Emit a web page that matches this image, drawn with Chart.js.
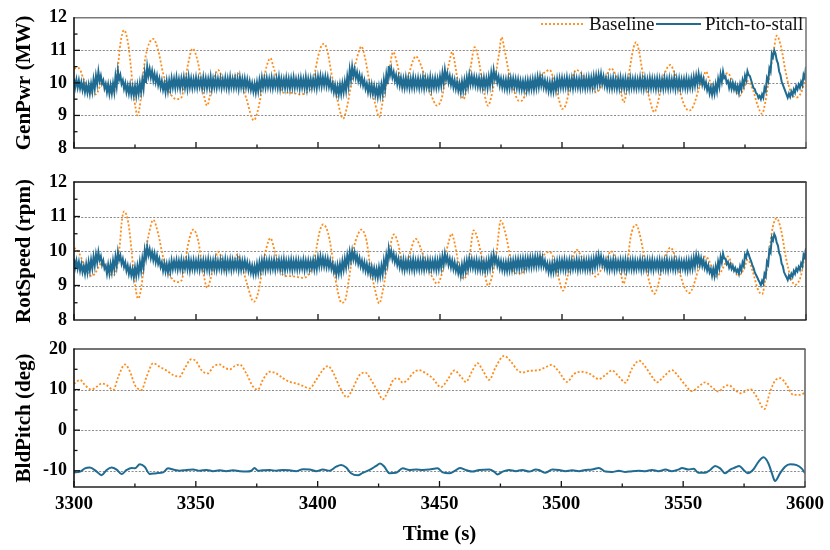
<!DOCTYPE html>
<html><head><meta charset="utf-8">
<script src="https://cdn.jsdelivr.net/npm/chart.js@4.4.1/dist/chart.umd.min.js"></script>
<style>
html,body{margin:0;padding:0;background:#fff;}
#wrap{position:relative;width:830px;height:550px;}
#wrap canvas{position:absolute;left:0;top:0;}
</style></head><body>
<div id="wrap">
<canvas id="c1" width="830" height="550"></canvas>
<canvas id="c2" width="830" height="550"></canvas>
<canvas id="c3" width="830" height="550"></canvas>
</div>
<script>
// ---------------- DATA ----------------
const timeTicks = [3300, 3350, 3400, 3450, 3500, 3550, 3600];
const timeMinorTicks = [3325, 3375, 3425, 3475, 3525, 3575];
const genPwrTicks = [8, 9, 10, 11, 12];
const rotSpeedTicks = [8, 9, 10, 11, 12];
const bldPitchTicks = [-10, 0, 10, 20];
const seriesNames = ['Baseline', 'Pitch-to-stall'];
const bandStart = 3300; // pitch-to-stall noise band read once per second: top edge, then bottom edge

// Baseline GenPwr (MW): [time, value]
const genPwrBaseline = [[3300,10.45],[3302,10.45],[3304,10.1],[3306.5,9.75],[3309,9.65],[3311.5,10.0],[3314.5,9.7],[3316.5,9.75],[3318,10.5],[3319,11.2],[3320.5,11.62],[3322.2,11.2],[3323.3,10.5],[3324.2,9.8],[3325.3,9.2],[3326,9.0],[3327,9.3],[3328,10.0],[3329.3,10.8],[3332.5,11.35],[3334.5,11.0],[3336.5,10.3],[3338.6,9.8],[3342,9.5],[3344,9.55],[3345.4,10.0],[3346.8,10.6],[3348.6,11.05],[3350.9,10.6],[3352.3,10.0],[3354.6,9.3],[3355.7,9.6],[3357.7,10.2],[3359,10.4],[3361.1,10.1],[3362.5,9.9],[3365.2,10.1],[3367,10.3],[3368.7,10.0],[3370.7,9.5],[3373.7,8.85],[3375.5,9.2],[3377.5,10.0],[3378.9,10.5],[3380.5,10.76],[3381.7,10.5],[3383.7,10.0],[3385.8,9.7],[3388,9.7],[3390.5,9.68],[3392.6,9.65],[3395.3,9.7],[3397.4,9.9],[3398.7,10.3],[3400,10.8],[3401.5,11.15],[3402.4,11.2],[3403.8,11.0],[3405.5,10.3],[3407.6,9.6],[3410.3,8.9],[3412,9.3],[3413.7,10.0],[3415.1,10.5],[3416.9,11.0],[3417.8,11.12],[3419.2,10.8],[3421.2,10.0],[3423.3,9.4],[3425.1,8.95],[3426.7,9.5],[3428.8,10.2],[3430.8,10.95],[3432.4,10.6],[3434.2,10.0],[3435.6,9.85],[3437.4,10.3],[3439,10.7],[3440.1,10.82],[3442.4,10.5],[3444.5,10.0],[3446.5,9.6],[3448.8,9.3],[3450.6,9.5],[3452,10.0],[3453.7,10.6],[3455,10.95],[3456.1,10.6],[3457.4,10.0],[3458.8,9.6],[3459.7,9.5],[3460.8,9.8],[3462.6,10.5],[3464.2,11.1],[3465.6,10.8],[3467.4,10.0],[3469.7,9.3],[3471.1,9.6],[3472.9,10.3],[3474.2,10.9],[3475.2,11.4],[3476.5,11.0],[3478.3,10.3],[3480.6,9.7],[3482.3,9.45],[3483.4,9.45],[3485.4,9.7],[3488.1,10.0],[3490.8,10.2],[3493.5,10.35],[3494.9,10.4],[3497,10.0],[3498.7,9.5],[3500.1,9.2],[3501.4,9.3],[3503.1,9.8],[3504.5,10.2],[3505.8,10.4],[3507.9,10.3],[3509.9,10.1],[3512.6,9.85],[3514,9.7],[3516,9.9],[3518.1,10.2],[3520.1,10.45],[3522.2,10.2],[3524.2,9.7],[3525.3,9.4],[3526.6,9.8],[3527.9,10.5],[3529.4,11.1],[3530.4,11.25],[3531.5,11.0],[3533.1,10.3],[3535.2,9.7],[3537.9,9.1],[3539.3,9.4],[3541,10.0],[3542.7,10.4],[3544.4,10.55],[3546.1,10.3],[3548.1,9.8],[3550.2,9.3],[3552.2,9.15],[3553.9,9.3],[3556,9.8],[3557.7,10.1],[3559,10.35],[3560.4,10.1],[3561.8,9.9],[3563.1,9.85],[3565.2,10.1],[3568,10.3],[3570,10.0],[3572,9.7],[3572.7,9.6],[3574.3,9.8],[3576.1,10.05],[3578.2,9.8],[3580.2,9.3],[3582,9.05],[3583.3,9.4],[3585,10.2],[3586.6,10.9],[3588,11.45],[3589.8,11.1],[3591.5,10.4],[3593.4,9.8],[3595.9,9.55],[3598,9.7],[3600,10.2]];

// Pitch-to-stall GenPwr (MW): noise band top / bottom edge, one value per second from 3300 s
const genPwrPitchToStallTop = [
10.13,10.1,10.08,10.02,9.99,9.93,9.94,9.97,10.1,10.22,
10.35,10.22,10.08,9.97,9.95,9.93,9.98,10.2,10.38,10.24,
10.08,9.99,9.92,9.93,9.88,9.9,9.93,9.99,10.09,10.3,
10.5,10.43,10.37,10.28,10.22,10.13,10.06,9.98,10.05,10.07,
10.14,10.12,10.17,10.11,10.13,10.16,10.12,10.18,10.13,10.11,
10.15,10.12,10.1,10.16,10.13,10.12,10.18,10.11,10.14,10.12,
10.13,10.1,10.15,10.12,10.17,10.11,10.13,10.12,10.16,10.12,
10.13,10.1,10.05,9.99,9.97,10.01,10.08,10.15,10.12,10.14,
10.12,10.15,10.11,10.13,10.17,10.12,10.11,10.15,10.12,10.13,
10.16,10.11,10.12,10.14,10.11,10.17,10.12,10.13,10.11,10.15,
10.18,10.2,10.17,10.19,10.16,10.08,9.98,9.93,9.9,9.94,
9.98,10.04,10.19,10.4,10.5,10.42,10.33,10.25,10.18,10.08,
9.98,9.95,9.94,9.9,9.85,9.88,9.94,10.09,10.25,10.52,
10.44,10.33,10.24,10.18,10.15,10.12,10.16,10.13,10.12,10.17,
10.12,10.14,10.11,10.16,10.13,10.12,10.17,10.11,10.14,10.12,
10.19,10.3,10.4,10.29,10.21,10.14,10.08,10.03,9.98,10.04,
10.08,10.16,10.24,10.21,10.18,10.15,10.14,10.12,10.15,10.13,
10.18,10.3,10.39,10.28,10.19,10.13,10.1,10.09,10.12,10.13,
10.13,10.11,10.1,10.06,10.05,10.06,10.07,10.08,10.1,10.12,
10.17,10.18,10.14,10.08,10.04,10.01,10.02,10.05,10.11,10.13,
10.14,10.12,10.16,10.11,10.13,10.15,10.12,10.11,10.16,10.12,
10.13,10.15,10.15,10.2,10.22,10.24,10.27,10.19,10.13,10.12,
10.11,10.14,10.1,10.12,10.15,10.11,10.13,10.1,10.14,10.11,
10.12,10.1,10.15,10.11,10.13,10.1,10.14,10.12,10.11,10.13,
10.12,10.1,10.14,10.11,10.13,10.1,10.15,10.11,10.12,10.1,
10.11,10.13,10.1,10.13,10.18,10.22,10.28,10.2,10.12,10.02,
9.92,9.86,9.89,9.96,10.11,10.26,10.35,10.2,10.06,10.02,
10.0,9.95,9.9,9.96,10.08,10.22,10.36,10.21,9.96,9.81,
9.66,9.6,9.65,9.85,10.15,10.45,10.9,11.0,10.7,10.35,
10.05,9.85,9.65,9.67,9.73,9.8,9.9,9.95,10.03,10.25,
10.5];
const genPwrPitchToStallBottom = [
9.87,9.86,9.83,9.78,9.72,9.7,9.68,9.73,9.82,9.97,
10.06,9.98,9.83,9.72,9.67,9.68,9.72,9.9,10.1,9.97,
9.82,9.72,9.68,9.64,9.63,9.61,9.67,9.72,9.82,10.0,
10.22,10.17,10.08,10.02,9.94,9.86,9.79,9.72,9.76,9.82,
9.87,9.85,9.88,9.84,9.89,9.86,9.83,9.88,9.85,9.87,
9.86,9.89,9.84,9.87,9.85,9.88,9.83,9.87,9.86,9.89,
9.85,9.88,9.86,9.84,9.88,9.86,9.87,9.83,9.88,9.85,
9.87,9.84,9.79,9.74,9.71,9.75,9.82,9.87,9.86,9.88,
9.87,9.85,9.88,9.86,9.84,9.88,9.85,9.87,9.83,9.87,
9.86,9.88,9.84,9.87,9.85,9.83,9.88,9.86,9.87,9.85,
9.92,9.9,9.93,9.91,9.88,9.81,9.72,9.67,9.65,9.67,
9.72,9.77,9.91,10.11,10.21,10.15,10.07,9.99,9.92,9.82,
9.72,9.69,9.67,9.63,9.58,9.62,9.67,9.81,9.96,10.24,
10.17,10.07,9.97,9.92,9.87,9.86,9.88,9.85,9.87,9.86,
9.88,9.85,9.87,9.84,9.88,9.86,9.83,9.87,9.86,9.88,
9.92,10.01,10.11,10.02,9.95,9.87,9.82,9.77,9.72,9.77,
9.82,9.89,9.96,9.95,9.92,9.89,9.87,9.86,9.88,9.85,
9.92,10.01,10.12,10.02,9.92,9.87,9.84,9.82,9.84,9.87,
9.87,9.85,9.82,9.8,9.79,9.78,9.8,9.82,9.81,9.85,
9.88,9.92,9.87,9.82,9.76,9.74,9.75,9.79,9.84,9.87,
9.86,9.88,9.85,9.87,9.84,9.88,9.86,9.85,9.87,9.84,
9.87,9.86,9.88,9.91,9.95,9.97,9.98,9.92,9.86,9.85,
9.84,9.86,9.83,9.85,9.86,9.84,9.85,9.83,9.86,9.85,
9.84,9.86,9.85,9.83,9.86,9.84,9.85,9.86,9.83,9.85,
9.85,9.83,9.86,9.84,9.85,9.86,9.83,9.85,9.84,9.86,
9.85,9.84,9.86,9.87,9.92,9.97,10.02,9.95,9.88,9.78,
9.68,9.64,9.67,9.74,9.89,10.04,10.15,10.0,9.85,9.82,
9.8,9.75,9.7,9.8,9.92,10.08,10.24,10.09,9.84,9.69,
9.54,9.5,9.55,9.75,10.05,10.35,10.8,10.9,10.6,10.25,
9.95,9.75,9.55,9.57,9.63,9.7,9.8,9.85,9.93,10.15,
10.4];

// Baseline RotSpeed (rpm): [time, value]
const rotSpeedBaseline = [[3300,10.08],[3301,10.05],[3303,9.8],[3304.5,9.5],[3306.5,9.3],[3307.2,9.27],[3308.6,9.35],[3310.6,9.6],[3312,9.7],[3313,9.55],[3314.7,9.35],[3315.8,9.28],[3317.5,9.5],[3318.8,10.2],[3319.5,10.8],[3320.5,11.15],[3322.3,10.8],[3323.6,10.0],[3324.7,9.2],[3326.3,8.62],[3327.7,9.0],[3328.8,9.7],[3330.4,10.4],[3332.5,10.9],[3334.5,10.5],[3336.6,9.8],[3339.3,9.3],[3342,9.1],[3344.1,9.15],[3345.4,9.6],[3346.8,10.2],[3348.9,10.62],[3350.9,10.3],[3352.7,9.5],[3354.6,8.93],[3356,9.2],[3357.7,9.7],[3358.9,9.98],[3360.5,9.8],[3361.8,9.45],[3363.9,9.5],[3365.9,9.75],[3366.9,9.9],[3368.7,9.6],[3370.7,9.1],[3373.7,8.53],[3375.5,8.8],[3377.5,9.6],[3378.9,10.1],[3380.5,10.37],[3382.3,10.0],[3384.4,9.5],[3385.8,9.3],[3388.5,9.27],[3391.2,9.25],[3394,9.22],[3396,9.3],[3398,9.6],[3399.4,10.1],[3400.8,10.6],[3402.1,10.77],[3404.2,10.5],[3406.2,9.7],[3407.6,9.0],[3409.7,8.5],[3411,8.55],[3412.7,9.2],[3414.4,10.0],[3416.5,10.5],[3417.8,10.62],[3419.9,10.3],[3421.3,9.6],[3423.3,8.9],[3425.1,8.48],[3426.7,8.9],[3428.8,9.8],[3430.1,10.3],[3431.1,10.48],[3432.9,10.2],[3434.6,9.6],[3435.6,9.45],[3437.6,9.9],[3439.3,10.3],[3440.1,10.35],[3442,10.1],[3444.5,9.6],[3447.2,9.2],[3448.8,9.05],[3450.6,9.3],[3452,9.8],[3453.7,10.3],[3454.7,10.5],[3456.1,10.2],[3457.4,9.7],[3459.5,9.2],[3460.8,9.3],[3462.2,9.9],[3463.8,10.6],[3465.6,10.3],[3467.7,9.6],[3469.7,9.0],[3471.1,9.2],[3473.1,9.9],[3474.9,10.88],[3476.5,10.6],[3478.6,9.9],[3480,9.4],[3481.5,9.35],[3483.4,9.35],[3485.4,9.5],[3488.1,9.7],[3491,9.8],[3494.9,9.98],[3497,9.7],[3498.7,9.2],[3500.4,8.85],[3502.4,9.3],[3504.5,9.85],[3506.1,10.03],[3507.9,9.85],[3509.9,9.6],[3512.6,9.35],[3513.7,9.26],[3516,9.45],[3518.1,9.7],[3520.1,10.0],[3522.2,9.7],[3524.2,9.3],[3525.2,9.05],[3526.6,9.5],[3527.9,10.3],[3529.3,10.7],[3530.4,10.76],[3531.8,10.5],[3533.8,9.8],[3535.8,9.1],[3537.9,8.76],[3539.3,9.0],[3541.3,9.6],[3543,9.95],[3544.4,10.1],[3546.1,9.9],[3548.1,9.4],[3550.2,8.95],[3552.2,8.78],[3553.9,9.0],[3556,9.5],[3557.7,9.8],[3559,9.84],[3560.4,9.7],[3561.8,9.45],[3563.1,9.26],[3565.2,9.4],[3566.6,9.6],[3568,9.84],[3570,9.55],[3572,9.3],[3573.4,9.35],[3574.7,9.5],[3576.1,9.75],[3578.2,9.4],[3580.2,8.9],[3582,8.75],[3583.6,9.3],[3585,10.0],[3586.4,10.7],[3588,10.95],[3589.8,10.6],[3591.8,9.8],[3593.9,9.2],[3595.6,9.02],[3598,9.3],[3599.3,9.8],[3600,10.05]];

// Pitch-to-stall RotSpeed (rpm): noise band top / bottom edge, one value per second from 3300 s
const rotSpeedPitchToStallTop = [
9.78,9.72,9.68,9.62,9.56,9.62,9.68,9.74,9.83,9.9,
9.97,9.85,9.72,9.57,9.6,9.62,9.72,9.83,9.97,9.87,
9.77,9.67,9.58,9.52,9.47,9.52,9.57,9.68,9.78,10.02,
10.12,10.05,9.97,9.93,9.87,9.77,9.67,9.64,9.62,9.64,
9.72,9.7,9.73,9.71,9.74,9.7,9.72,9.75,9.71,9.73,
9.71,9.74,9.7,9.73,9.72,9.75,9.71,9.72,9.74,9.7,
9.73,9.72,9.75,9.71,9.74,9.72,9.7,9.74,9.73,9.71,
9.72,9.67,9.62,9.57,9.56,9.62,9.67,9.72,9.74,9.71,
9.73,9.71,9.74,9.7,9.73,9.72,9.75,9.71,9.72,9.74,
9.71,9.73,9.72,9.7,9.74,9.71,9.72,9.7,9.73,9.72,
9.8,9.83,9.8,9.78,9.77,9.72,9.64,9.57,9.59,9.62,
9.7,9.77,9.87,9.97,10.0,9.95,9.87,9.8,9.72,9.67,
9.62,9.57,9.54,9.5,9.47,9.52,9.57,9.72,9.87,10.07,
10.0,9.92,9.84,9.77,9.72,9.74,9.71,9.73,9.72,9.75,
9.71,9.73,9.72,9.74,9.7,9.73,9.72,9.71,9.74,9.72,
9.77,9.84,9.92,9.84,9.77,9.72,9.67,9.6,9.54,9.6,
9.67,9.72,9.77,9.75,9.72,9.73,9.7,9.71,9.68,9.7,
9.74,9.82,9.9,9.82,9.74,9.7,9.67,9.67,9.69,9.7,
9.72,9.74,9.75,9.75,9.77,9.77,9.78,9.8,9.8,9.82,
9.82,9.83,9.8,9.72,9.64,9.62,9.64,9.67,9.7,9.72,
9.72,9.74,9.71,9.73,9.72,9.7,9.74,9.72,9.71,9.73,
9.72,9.73,9.74,9.77,9.82,9.87,9.84,9.77,9.72,9.73,
9.71,9.74,9.72,9.7,9.73,9.72,9.74,9.71,9.72,9.73,
9.72,9.7,9.74,9.72,9.71,9.73,9.72,9.74,9.7,9.72,
9.73,9.71,9.72,9.74,9.7,9.72,9.73,9.71,9.72,9.7,
9.7,9.71,9.72,9.74,9.8,9.87,9.84,9.79,9.73,9.66,
9.58,9.48,9.48,9.55,9.69,9.83,9.92,9.78,9.68,9.62,
9.57,9.51,9.46,9.56,9.67,9.89,9.99,9.79,9.59,9.39,
9.24,9.09,9.14,9.34,9.69,10.04,10.39,10.49,10.24,9.94,
9.64,9.39,9.24,9.29,9.34,9.42,9.49,9.54,9.64,9.89,
10.08];
const rotSpeedPitchToStallBottom = [
9.53,9.49,9.43,9.39,9.34,9.38,9.43,9.5,9.58,9.67,
9.74,9.6,9.49,9.34,9.35,9.39,9.48,9.58,9.74,9.63,
9.54,9.43,9.34,9.29,9.24,9.28,9.34,9.43,9.53,9.79,
9.88,9.8,9.74,9.68,9.63,9.54,9.43,9.41,9.38,9.41,
9.48,9.5,9.47,9.49,9.46,9.5,9.48,9.45,9.49,9.47,
9.49,9.46,9.5,9.47,9.48,9.45,9.49,9.48,9.46,9.5,
9.47,9.48,9.45,9.49,9.46,9.48,9.5,9.46,9.47,9.49,
9.48,9.43,9.38,9.33,9.34,9.38,9.43,9.48,9.46,9.49,
9.47,9.49,9.46,9.5,9.47,9.48,9.45,9.49,9.48,9.46,
9.49,9.47,9.48,9.5,9.46,9.49,9.48,9.5,9.47,9.48,
9.56,9.57,9.56,9.54,9.53,9.48,9.4,9.33,9.35,9.38,
9.46,9.53,9.63,9.73,9.76,9.7,9.63,9.56,9.48,9.43,
9.38,9.33,9.3,9.26,9.23,9.28,9.33,9.48,9.63,9.83,
9.76,9.68,9.6,9.53,9.48,9.46,9.49,9.47,9.48,9.45,
9.49,9.47,9.48,9.46,9.5,9.47,9.48,9.49,9.46,9.48,
9.53,9.6,9.68,9.6,9.53,9.48,9.43,9.36,9.3,9.36,
9.43,9.48,9.53,9.51,9.48,9.47,9.46,9.45,9.44,9.46,
9.5,9.58,9.66,9.58,9.5,9.46,9.43,9.43,9.45,9.46,
9.48,9.5,9.49,9.51,9.51,9.53,9.54,9.54,9.56,9.56,
9.58,9.57,9.56,9.48,9.4,9.38,9.4,9.43,9.46,9.48,
9.48,9.46,9.49,9.47,9.48,9.5,9.46,9.48,9.49,9.47,
9.48,9.47,9.5,9.53,9.58,9.63,9.6,9.53,9.48,9.47,
9.49,9.46,9.48,9.5,9.47,9.48,9.46,9.49,9.48,9.47,
9.48,9.5,9.46,9.48,9.49,9.47,9.48,9.46,9.5,9.48,
9.47,9.49,9.48,9.46,9.5,9.48,9.47,9.49,9.48,9.5,
9.46,9.45,9.48,9.5,9.56,9.63,9.6,9.57,9.51,9.44,
9.38,9.28,9.28,9.35,9.51,9.67,9.78,9.62,9.52,9.48,
9.43,9.39,9.34,9.44,9.57,9.81,9.91,9.71,9.51,9.31,
9.16,9.01,9.06,9.26,9.61,9.96,10.31,10.41,10.16,9.86,
9.56,9.31,9.16,9.21,9.26,9.34,9.41,9.46,9.56,9.81,
10.02];

// Baseline BldPitch (deg): [time, value]
const bldPitchBaseline = [[3300,11.4],[3302.5,12.4],[3304.5,11.1],[3307.2,10.0],[3309.3,10.7],[3311.3,11.5],[3313.4,11.1],[3316.1,9.9],[3318.2,13.2],[3320.9,16.2],[3323,14.4],[3325,11.1],[3327.7,9.9],[3329.8,13.2],[3332.5,16.5],[3335.2,15.6],[3338,14.7],[3340.7,13.6],[3343.4,13.2],[3345.4,15.2],[3348.2,17.5],[3350.2,16.9],[3352.3,14.8],[3355,14.0],[3357.1,15.6],[3359.8,16.2],[3361.8,15.4],[3363.9,15.0],[3366,15.8],[3368,16.2],[3370.7,14.0],[3373.5,10.7],[3375.5,10.0],[3377.5,12.4],[3380.3,14.4],[3383,14.0],[3385.8,12.8],[3388.5,11.9],[3391.2,11.5],[3394,10.9],[3396.7,10.3],[3399.4,12.4],[3402.1,14.8],[3404.2,15.8],[3406.2,14.4],[3409,10.7],[3412,8.1],[3414.4,10.3],[3417.2,13.6],[3419.6,14.2],[3421.9,12.4],[3424.7,9.5],[3426.7,7.6],[3428.8,9.5],[3431.1,12.4],[3432.9,12.8],[3434.9,11.7],[3436.9,12.4],[3439,14.0],[3441.5,14.8],[3444.5,14.0],[3447.2,12.8],[3450.6,10.6],[3453.3,12.4],[3456.1,14.7],[3458.8,13.2],[3460.8,11.9],[3463.6,14.8],[3465.6,16.5],[3467.7,14.8],[3470.4,12.4],[3473.1,15.6],[3476.5,18.3],[3479.3,16.9],[3482,14.8],[3484,14.2],[3486.8,14.6],[3489.5,14.7],[3490.8,14.8],[3493.5,15.5],[3496,16.1],[3499,14.4],[3502.4,11.9],[3505.1,13.8],[3507.9,14.4],[3511.3,14.0],[3515.4,12.6],[3518.1,13.6],[3520.8,14.7],[3523.6,13.2],[3526.3,11.7],[3529,15.2],[3532,17.1],[3534.5,15.6],[3537.2,13.2],[3539.3,11.8],[3542,13.2],[3545.4,14.8],[3548.1,13.2],[3550.9,11.1],[3553.6,9.6],[3556.3,10.7],[3559,11.8],[3561.8,10.6],[3564.5,9.5],[3566.6,10.6],[3568.6,11.1],[3571.3,9.9],[3573.4,9.1],[3575.4,9.5],[3577.5,10.1],[3580.2,8.2],[3583.3,5.2],[3585.7,9.5],[3588,12.4],[3590,12.8],[3592.5,11.1],[3595.2,8.7],[3597.9,8.7],[3600,9.2]];

// Pitch-to-stall BldPitch (deg): [time, value]
const bldPitchPitchToStall = [[3300,-10.4],[3302.5,-10.2],[3304.5,-9.4],[3306.5,-9.2],[3309.3,-10.2],[3311.3,-11.1],[3313.4,-9.8],[3315.4,-9.2],[3317.5,-9.7],[3319.5,-10.8],[3321.6,-9.8],[3323.6,-9.3],[3325,-9.4],[3327,-8.4],[3329,-9.0],[3331.1,-10.8],[3333.8,-10.6],[3336.6,-10.4],[3338.6,-9.4],[3340.7,-9.7],[3343.4,-10.0],[3346.1,-9.8],[3348.9,-9.7],[3351.6,-10.0],[3354.4,-9.8],[3357.1,-10.1],[3359.8,-9.9],[3362.5,-10.1],[3365.2,-9.9],[3368,-10.1],[3370.7,-10.2],[3372.8,-10.0],[3374.1,-9.3],[3375.5,-10.0],[3377.5,-9.9],[3380.3,-9.8],[3383,-10.0],[3385.8,-9.8],[3388.5,-9.9],[3391.2,-10.1],[3394,-9.6],[3396.7,-9.7],[3399.4,-10.1],[3402.1,-9.7],[3404.9,-10.0],[3407.6,-9.0],[3409.6,-8.6],[3411.7,-9.2],[3413.7,-10.6],[3416.5,-11.1],[3418.5,-10.5],[3421.3,-9.8],[3424,-8.8],[3425.6,-8.2],[3427.4,-9.0],[3429.4,-10.6],[3432.2,-10.5],[3434.9,-9.4],[3437.6,-9.8],[3440.4,-9.7],[3443.1,-9.8],[3445.8,-9.7],[3449.2,-9.4],[3451.3,-10.4],[3454,-10.6],[3456.1,-10.1],[3458.4,-9.3],[3460.8,-9.8],[3463.6,-10.2],[3466.3,-9.8],[3470.4,-9.7],[3472.4,-10.2],[3473.8,-10.9],[3475.9,-10.2],[3478.6,-9.8],[3481.3,-10.1],[3484,-9.8],[3486.8,-10.2],[3489.5,-9.7],[3490.8,-9.8],[3493.5,-10.5],[3496.3,-9.7],[3499,-9.8],[3501.7,-10.1],[3504.5,-9.9],[3507.2,-10.1],[3509.9,-9.8],[3512.6,-9.7],[3515.4,-9.3],[3518.1,-10.2],[3520.8,-10.3],[3523.6,-10.0],[3526.3,-10.3],[3529,-10.1],[3531.8,-10.0],[3534.5,-10.1],[3537.2,-9.8],[3539.9,-10.1],[3542.7,-9.7],[3545.4,-10.1],[3548.1,-9.7],[3549.5,-9.3],[3552.2,-9.7],[3554.3,-9.5],[3556.3,-10.5],[3559,-10.5],[3561.1,-9.8],[3563.1,-8.8],[3565.2,-9.4],[3567.2,-10.6],[3569.3,-9.7],[3571.3,-9.2],[3573,-8.8],[3574.8,-9.8],[3576.5,-10.6],[3578.8,-9.7],[3580.9,-7.8],[3583,-6.7],[3585,-8.2],[3586.4,-10.6],[3587.7,-12.5],[3589.8,-10.6],[3591.8,-9.0],[3593.9,-8.4],[3596.6,-8.6],[3598.6,-9.4],[3600,-10.6]];

// ---------------- STYLE ----------------
const ORANGE = '#ff8c1a';
const BLUE = '#1f6b92';
const SERIF = '"Liberation Serif", "Times New Roman", serif';

const pairs = arr => arr.map(p => ({x: p[0], y: p[1]}));
// noise band drawn as a trace alternating between the read top edge (at t) and bottom edge (at t + 0.5 s)
const band = (top, bottom) => {
  const pts = [];
  top.forEach((v, i) => {
    pts.push({x: bandStart + i, y: v});
    if (i < top.length - 1) pts.push({x: bandStart + i + 0.5, y: bottom[i]});
  });
  return pts;
};

const framePlugin = {
  id: 'frame',
  beforeDatasetsDraw(chart, args, o) {
    const {ctx, chartArea: a, scales: {y}} = chart;
    ctx.save();
    ctx.strokeStyle = '#8a8a8a';
    ctx.lineWidth = 1.1;
    ctx.setLineDash([2, 1.6]);
    o.grid.forEach(v => {
      const py = Math.round(y.getPixelForValue(v)) + 0.5;
      ctx.beginPath(); ctx.moveTo(a.left, py); ctx.lineTo(a.right, py); ctx.stroke();
    });
    ctx.restore();
  },
  afterDatasetsDraw(chart, args, o) {
    const {ctx, chartArea: a, scales: {x, y}} = chart;
    ctx.save();
    ctx.setLineDash([]);
    ctx.strokeStyle = '#111';
    ctx.lineWidth = 1.3;
    const vt = (v, len) => { const px = x.getPixelForValue(v); ctx.beginPath(); ctx.moveTo(px, a.bottom); ctx.lineTo(px, a.bottom - len); ctx.stroke(); };
    timeTicks.forEach(v => vt(v, 6));
    timeMinorTicks.forEach(v => vt(v, 3.5));
    const ht = (v, len) => { const py = y.getPixelForValue(v); ctx.beginPath(); ctx.moveTo(a.left, py); ctx.lineTo(a.left + len, py); ctx.stroke(); };
    o.yMajor.forEach(v => ht(v, 6));
    o.yMinor.forEach(v => ht(v, 3.5));
    const seg = (x1, y1, x2, y2, c, w) => { ctx.strokeStyle = c; ctx.lineWidth = w; ctx.beginPath(); ctx.moveTo(x1, y1); ctx.lineTo(x2, y2); ctx.stroke(); };
    seg(a.left - 0.5, a.top, a.right + 0.5, a.top, o.topColor, 1.6);
    seg(a.right, a.top, a.right, a.bottom, o.rightColor, 1.6);
    seg(a.left, a.top - 0.5, a.left, a.bottom + 0.5, '#111', 1.6);
    seg(a.left - 0.5, a.bottom, a.right + 0.5, a.bottom, '#222', 1.6);
    ctx.restore();
  },
  afterDraw(chart, args, o) {
    if (!o.legend) return;
    const {ctx} = chart;
    ctx.save();
    ctx.font = '19px ' + SERIF;
    ctx.textBaseline = 'middle';
    ctx.fillStyle = '#111';
    const ly = 24;
    ctx.strokeStyle = ORANGE; ctx.lineWidth = 1.8; ctx.setLineDash([2, 2]);
    ctx.beginPath(); ctx.moveTo(541, ly); ctx.lineTo(585, ly); ctx.stroke();
    ctx.fillText(seriesNames[0], 589, ly + 1);
    ctx.strokeStyle = BLUE; ctx.lineWidth = 1.8; ctx.setLineDash([]);
    ctx.beginPath(); ctx.moveTo(656, ly); ctx.lineTo(701, ly); ctx.stroke();
    ctx.fillText(seriesNames[1], 705, ly + 1);
    ctx.restore();
  }
};

function makePanel(id, cfg) {
  const showX = !!cfg.showX;
  return new Chart(document.getElementById(id), {
    type: 'line',
    data: {
      datasets: [
        { label: seriesNames[1], data: cfg.blue, borderColor: BLUE, borderWidth: cfg.blueWidth,
          pointRadius: 0, order: 0, tension: 0,
          cubicInterpolationMode: cfg.blueSmooth ? 'monotone' : 'default' },
        { label: seriesNames[0], data: cfg.orange, borderColor: ORANGE, borderWidth: 1.8,
          borderDash: [2, 2], pointRadius: 0, order: 1, cubicInterpolationMode: 'monotone' }
      ]
    },
    options: {
      responsive: false, animation: false, events: [],
      layout: { padding: { top: cfg.top, bottom: cfg.bottomPad, left: 0, right: 24 } },
      plugins: {
        legend: { display: false }, tooltip: { enabled: false },
        frame: { grid: cfg.grid, yMajor: cfg.yMajor, yMinor: cfg.yMinor, topColor: cfg.topColor,
                 rightColor: cfg.rightColor, legend: !!cfg.legend }
      },
      scales: {
        x: {
          type: 'linear', min: 3300, max: 3600, display: showX,
          afterBuildTicks: s => { s.ticks = timeTicks.map(v => ({value: v})); },
          afterFit: s => { if (showX) s.height = 63; },
          grid: { display: false, drawTicks: false }, border: { display: false },
          ticks: { font: { family: SERIF, size: 19, weight: 'bold' }, color: '#000', padding: 6, maxRotation: 0,
                   callback: v => String(v) },
          title: { display: showX, text: 'Time (s)', font: { family: SERIF, size: 21, weight: 'bold' },
                   color: '#000', padding: { top: 0, bottom: 3 } }
        },
        y: {
          min: cfg.ymin, max: cfg.ymax,
          afterBuildTicks: s => { s.ticks = cfg.yTicks.map(v => ({value: v})); },
          afterFit: s => { s.width = 74; },
          grid: { display: false, drawTicks: false }, border: { display: false },
          ticks: { font: { family: SERIF, size: 18, weight: 'bold' }, color: '#000', padding: 7,
                   callback: v => String(v) },
          title: { display: true, text: cfg.title, font: { family: SERIF, size: 21, weight: 'bold' },
                   color: '#000', padding: { top: 12, bottom: 0 } }
        }
      }
    },
    plugins: [framePlugin]
  });
}

makePanel('c1', {
  top: 11, bottomPad: 402, ymin: 8, ymax: 12, yTicks: genPwrTicks, title: 'GenPwr (MW)',
  grid: [9, 10, 11], yMajor: [9, 10, 11], yMinor: [8.5, 9.5, 10.5, 11.5],
  topColor: '#7a7a7a', rightColor: '#7a7a7a', legend: true,
  blue: band(genPwrPitchToStallTop, genPwrPitchToStallBottom), blueWidth: 2.0, orange: pairs(genPwrBaseline)
});
makePanel('c2', {
  top: 182, bottomPad: 230, ymin: 8, ymax: 12, yTicks: rotSpeedTicks, title: 'RotSpeed (rpm)',
  grid: [9, 10, 11], yMajor: [9, 10, 11], yMinor: [8.5, 9.5, 10.5, 11.5],
  topColor: '#111', rightColor: '#444',
  blue: band(rotSpeedPitchToStallTop, rotSpeedPitchToStallBottom), blueWidth: 2.0, orange: pairs(rotSpeedBaseline)
});
makePanel('c3', {
  top: 349, bottomPad: 0, showX: true, ymin: -14, ymax: 20, yTicks: bldPitchTicks, title: 'BldPitch (deg)',
  grid: [-10, 0, 10], yMajor: [-10, 0, 10], yMinor: [-5, 5, 15],
  topColor: '#444', rightColor: '#666',
  blue: pairs(bldPitchPitchToStall), blueWidth: 2, blueSmooth: true, orange: pairs(bldPitchBaseline)
});
</script>
</body></html>
